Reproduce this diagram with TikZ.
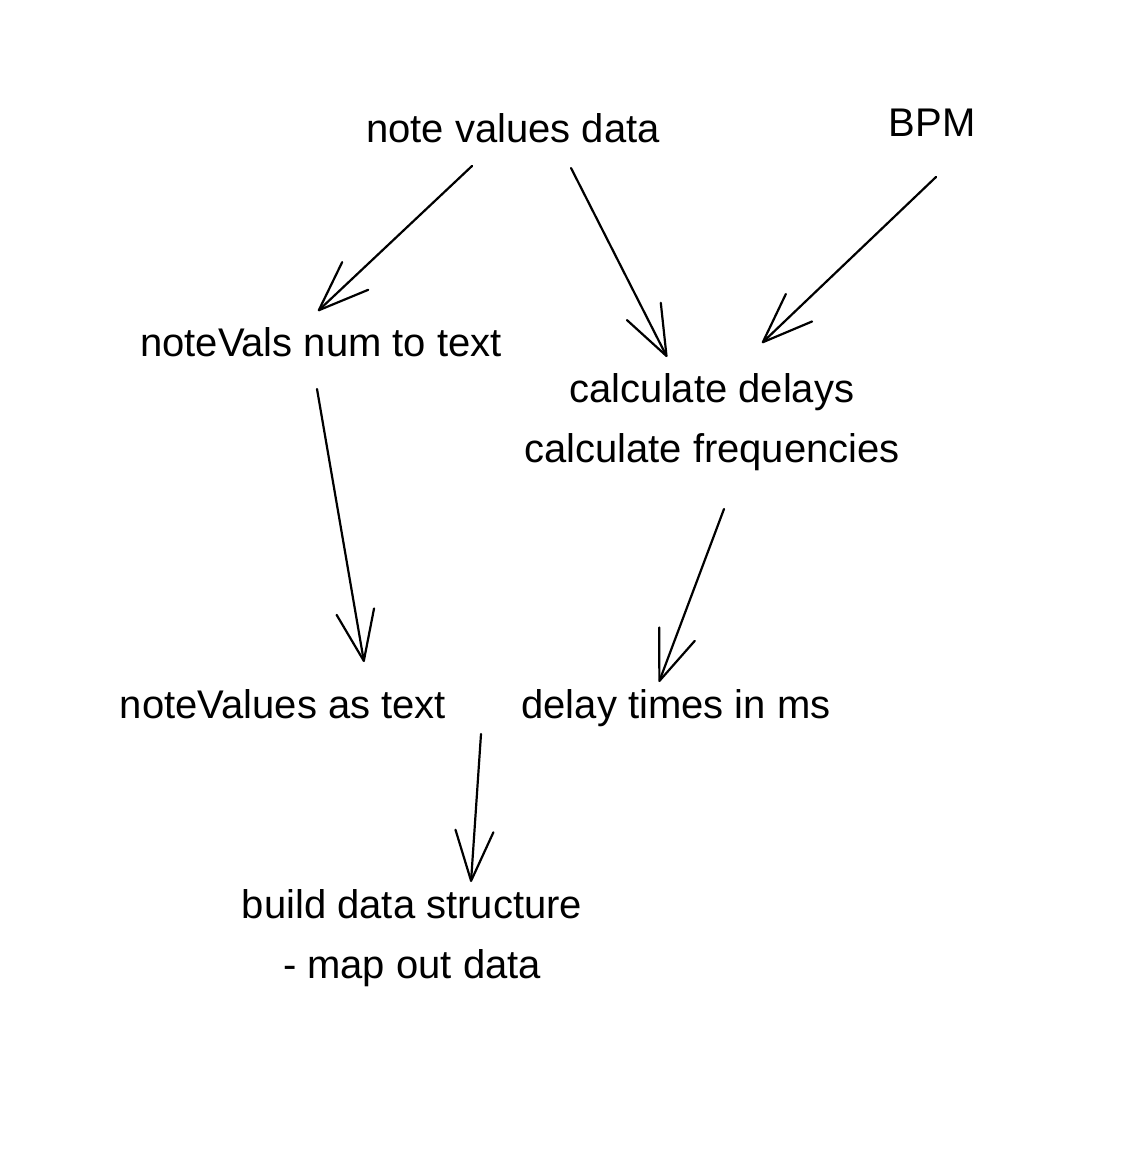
\documentclass[tikz,border=0pt]{standalone}
\usepackage{fontspec}
\setmainfont{Liberation Sans}
\usetikzlibrary{arrows.meta}

\tikzset{
  label text/.style={anchor=base, inner sep=0pt, align=center,
    font=\fontsize{40}{60}\selectfont},
  flow/.style={line width=2.2pt, line cap=round,
    -{Straight Barb[length=50pt, width=38pt, round]}},
}

\begin{document}
\begin{tikzpicture}[x=1pt,y=-1pt]
\useasboundingbox (0,0) rectangle (1120,1158);

% texts
\node[label text] (notedata) at (513,143) {note values data};
\node[label text] (bpm) at (932,137) {BPM};
\node[label text] (numtotext) at (321,356) {noteVals num to text};
\node[label text] (calc) at (712,462) {calculate delays\\calculate frequencies};
\node[label text] (astext) at (283,718) {noteValues as text};
\node[label text] (delays) at (676,718) {delay times in ms};
\node[label text] (build) at (412,978) {build data structure\\- map out data};

% arrows
\draw[flow] ([shift={(-41,23)}]notedata.base) -- ([shift={(-3,-45)}]numtotext.base);
\draw[flow] ([shift={(58,25)}]notedata.base) -- ([shift={(-45,-105)}]calc.base);
\draw[flow] ([shift={(4,40)}]bpm.base) -- ([shift={(50,-119)}]calc.base);
\draw[flow] ([shift={(-4,33)}]numtotext.base) -- ([shift={(81,-56)}]astext.base);
\draw[flow] ([shift={(12,47)}]calc.base) -- ([shift={(-17,-36)}]delays.base);
\draw[flow] ([shift={(198,16)}]astext.base) -- ([shift={(59,-96)}]build.base);
\end{tikzpicture}
\end{document}
